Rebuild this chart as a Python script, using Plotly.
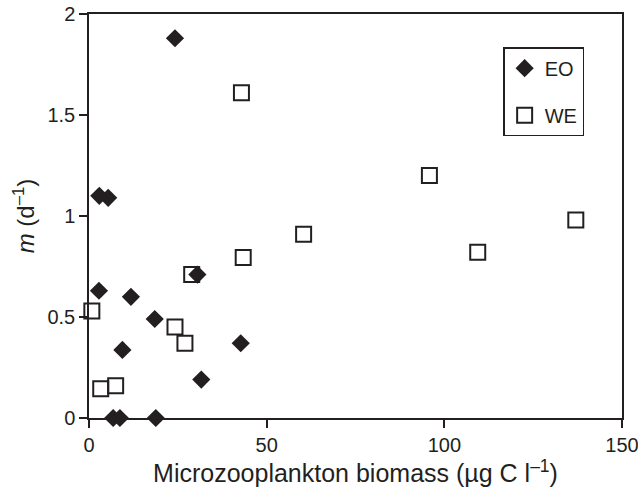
import plotly.graph_objects as go

eo_x = [24.2, 2.9, 5.4, 2.8, 11.8, 18.5, 9.4, 42.7, 31.6, 30.5, 6.8, 8.7, 18.8]
eo_y = [1.88, 1.10, 1.09, 0.63, 0.60, 0.49, 0.337, 0.37, 0.19, 0.71, 0.0, 0.0, 0.0]

we_x = [42.9, 60.4, 43.4, 28.9, 0.8, 24.2, 27.0, 3.3, 7.5, 95.8, 109.4, 137.0]
we_y = [1.61, 0.91, 0.795, 0.71, 0.53, 0.45, 0.37, 0.145, 0.16, 1.20, 0.82, 0.98]

x_ticks = [0, 50, 100, 150]
y_ticks = [0, 0.5, 1, 1.5, 2]
y_tick_text = ["0", "0.5", "1", "1.5", "2"]

ink = "#231f20"
font = "Liberation Sans, Arial, sans-serif"

fig = go.Figure()
fig.add_trace(go.Scatter(
    x=eo_x, y=eo_y, mode="markers", name="EO", legendgroup="a",
    marker=dict(symbol="diamond", size=14, color=ink, line=dict(width=0)),
    cliponaxis=False,
))
fig.add_trace(go.Scatter(
    x=we_x, y=we_y, mode="markers", name="WE", legendgroup="b",
    marker=dict(symbol="square-open", size=15, color=ink, line=dict(width=2)),
    cliponaxis=False,
))

axis_common = dict(
    showline=True, linecolor=ink, linewidth=1.5, mirror=True,
    ticks="outside", ticklen=8, tickwidth=1.5, tickcolor=ink,
    showgrid=False, zeroline=False, automargin=False,
    ticklabeloverflow="allow",
    tickfont=dict(family=font, size=20, color=ink),
)

fig.update_layout(
    width=638, height=499,
    margin=dict(l=89, r=16, t=14, b=81),
    paper_bgcolor="white", plot_bgcolor="white",
    showlegend=True,
    legend=dict(
        x=0.777, y=0.918, xanchor="left", yanchor="top",
        bordercolor=ink, borderwidth=1.5, bgcolor="white",
        font=dict(family=font, size=20, color=ink),
        tracegroupgap=18, itemwidth=30,
    ),
    xaxis=dict(
        range=[0, 150], tickvals=x_ticks, **axis_common,
        title=dict(text="Microzooplankton biomass (µg C l<sup>–1</sup>)",
                   font=dict(family=font, size=25, color=ink), standoff=8),
    ),
    yaxis=dict(
        range=[0, 2], tickvals=y_ticks, ticktext=y_tick_text, **axis_common,
        title=dict(text="<i>m</i> (d<sup>–1</sup>)",
                   font=dict(family=font, size=24, color=ink), standoff=6),
    ),
)

fig.write_html("out.html")
